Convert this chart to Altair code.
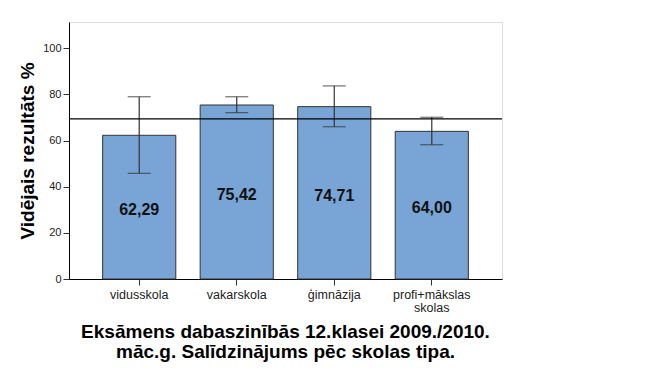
import altair as alt
import pandas as pd

categories = ["vidusskola", "vakarskola", "ģimnāzija", "profi+mākslas skolas"]
means = [62.29, 75.42, 74.71, 64.00]
ci_low = [45.8, 72.1, 66.0, 58.2]
ci_high = [79.0, 79.0, 83.7, 70.1]
labels = ["62,29", "75,42", "74,71", "64,00"]
ref_value = [69.4]

df = pd.DataFrame({
    "cat": categories,
    "mean": means,
    "lo": ci_low,
    "hi": ci_high,
    "label": labels,
    "mid": [m / 2 for m in means],
})
ref = pd.DataFrame({"v": ref_value})

FONT = "Liberation Sans"

x_enc = alt.X(
    "cat:N",
    sort=categories,
    title=None,
    scale=alt.Scale(paddingInner=0.25, paddingOuter=0.345),
    axis=alt.Axis(
        labelAngle=0,
        labelFont=FONT,
        labelFontSize=12.5,
        labelColor="#222",
        tickSize=6,
        tickColor="#333",
        domainColor="#000",
        labelPadding=3,
        labelExpr="datum.label == 'profi+mākslas skolas' ? ['profi+mākslas', 'skolas'] : datum.label",
        labelLineHeight=13,
    ),
)

y_scale = alt.Scale(domain=[0, 111.4], nice=False, zero=True)

bars = alt.Chart(df).mark_bar(
    color="#78a5d6", stroke="#333", strokeWidth=1
).encode(
    x=x_enc,
    y=alt.Y(
        "mean:Q",
        scale=y_scale,
        title="Vidējais rezultāts %",
        axis=alt.Axis(
            values=[0, 20, 40, 60, 80, 100],
            grid=False,
            labelFont=FONT,
            labelFontSize=11,
            labelColor="#222",
            tickSize=6,
            tickColor="#333",
            domainColor="#000",
            titleFont=FONT,
            titleFontSize=19,
            titleFontWeight="bold",
            titleColor="#000",
            titlePadding=5,
        ),
    ),
)

err = alt.Chart(df).mark_errorbar(
    ticks=alt.MarkConfig(size=23, color="#333", strokeWidth=1.2), color="#333", thickness=1.2
).encode(
    x=alt.X("cat:N", sort=categories),
    y=alt.Y("lo:Q", scale=y_scale, title="Vidējais rezultāts %"),
    y2="hi:Q",
)

text = alt.Chart(df).mark_text(
    font=FONT, fontSize=16, fontWeight="bold", color="#111", baseline="middle", dy=3
).encode(
    x=alt.X("cat:N", sort=categories),
    y=alt.Y("mid:Q", scale=y_scale),
    text="label:N",
)

rule = alt.Chart(ref).mark_rule(color="#000", strokeWidth=1.2).encode(
    y=alt.Y("v:Q", scale=y_scale)
)

chart = alt.layer(bars, err, rule, text).properties(
    width=433,
    height=257,
    title=alt.TitleParams(
        text=["Eksāmens dabaszinībās 12.klasei 2009./2010.", "māc.g. Salīdzinājums pēc skolas tipa."],
        orient="bottom",
        anchor="middle",
        font=FONT,
        fontSize=19,
        fontWeight="bold",
        color="#000",
        lineHeight=20,
        offset=9,
    ),
    autosize=alt.AutoSizeParams(type="none"),
    padding={"left": 61, "top": 14, "right": 152, "bottom": 88},
).configure_view(
    stroke="#000", strokeWidth=1.2
).configure(background="#ffffff")

chart.save("out.html", embed_options={"renderer": "svg", "actions": False})
